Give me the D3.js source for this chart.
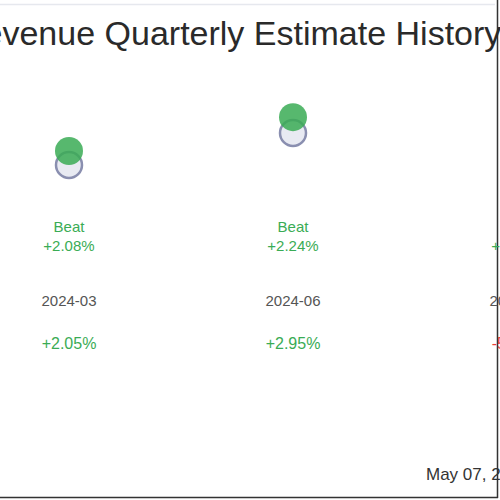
<!DOCTYPE html>
<html>
<head>
<meta charset="utf-8">
<script src="https://cdn.jsdelivr.net/npm/d3@7"></script>
<style>
body { margin: 0; background: #fff; }
text { font-family: "Liberation Sans", Arial, sans-serif; }
</style>
</head>
<body>
<div id="chart"></div>
<script>
// quarters and values
var quarters = ["2024-03", "2024-06", "2024-09"];
var estimates = [100, 104.75, 108.2];
var actuals = [102.08, 107.1, 109.9];
var verdicts = ["Beat", "Beat", "Beat"];
var beatPct = ["+2.08%", "+2.24%", "+1.57%"];
var changePct = ["+2.05%", "+2.95%", "-5.12%"];

var svgWidth = 500, svgHeight = 500;

var svg = d3.select("#chart").append("svg")
  .attr("width", svgWidth)
  .attr("height", svgHeight);

// column positions
var x = d3.scalePoint()
  .domain(quarters)
  .range([69, 517]);

// value -> vertical position
var y = d3.scaleLinear()
  .domain([100, 110])
  .range([165, 97.7]);

// frame lines
svg.append("line")
  .attr("x1", 0).attr("x2", 495).attr("y1", 4.5).attr("y2", 4.5)
  .attr("stroke", "#e6e8ee").attr("stroke-width", 1.5);
svg.append("line")
  .attr("x1", 497.5).attr("x2", 497.5).attr("y1", 0).attr("y2", 498)
  .attr("stroke", "#333").attr("stroke-width", 1.5);
svg.append("line")
  .attr("x1", 0).attr("x2", 498).attr("y1", 497.5).attr("y2", 497.5)
  .attr("stroke", "#333").attr("stroke-width", 1.5);

svg.append("text")
  .attr("x", -41)
  .attr("y", 45)
  .attr("font-size", "34px")
  .attr("fill", "#2a2a2a")
  .text("Revenue Quarterly Estimate History");

var cols = svg.selectAll("g.col")
  .data(quarters)
  .enter()
  .append("g")
  .attr("class", "col");

// estimate circles
cols.append("circle")
  .attr("cx", d => x(d))
  .attr("cy", (d, i) => y(estimates[i]))
  .attr("r", 13)
  .attr("fill", "#e8eaf2")
  .attr("stroke", "#8a8fb0")
  .attr("stroke-width", 2.5);

// actual circles
cols.append("circle")
  .attr("cx", d => x(d))
  .attr("cy", (d, i) => y(actuals[i]))
  .attr("r", 14)
  .attr("fill", "#3aac55")
  .attr("opacity", 0.85);

cols.append("text")
  .attr("x", d => x(d))
  .attr("y", 232)
  .attr("text-anchor", "middle")
  .attr("font-size", "15px")
  .attr("fill", "#3aac55")
  .text((d, i) => verdicts[i]);

cols.append("text")
  .attr("x", d => x(d))
  .attr("y", 251)
  .attr("text-anchor", "middle")
  .attr("font-size", "15px")
  .attr("fill", "#3aac55")
  .text((d, i) => beatPct[i]);

cols.append("text")
  .attr("x", d => x(d))
  .attr("y", 306)
  .attr("text-anchor", "middle")
  .attr("font-size", "15px")
  .attr("fill", "#555")
  .text(d => d);

cols.append("text")
  .attr("x", d => x(d))
  .attr("y", 349)
  .attr("text-anchor", "middle")
  .attr("font-size", "16px")
  .attr("fill", (d, i) => changePct[i][0] === "-" ? "#e8403a" : "#3aac55")
  .text((d, i) => changePct[i]);

svg.append("text")
  .attr("x", 426)
  .attr("y", 480)
  .attr("font-size", "17px")
  .attr("fill", "#333")
  .text("May 07, 2025");
</script>
</body>
</html>
